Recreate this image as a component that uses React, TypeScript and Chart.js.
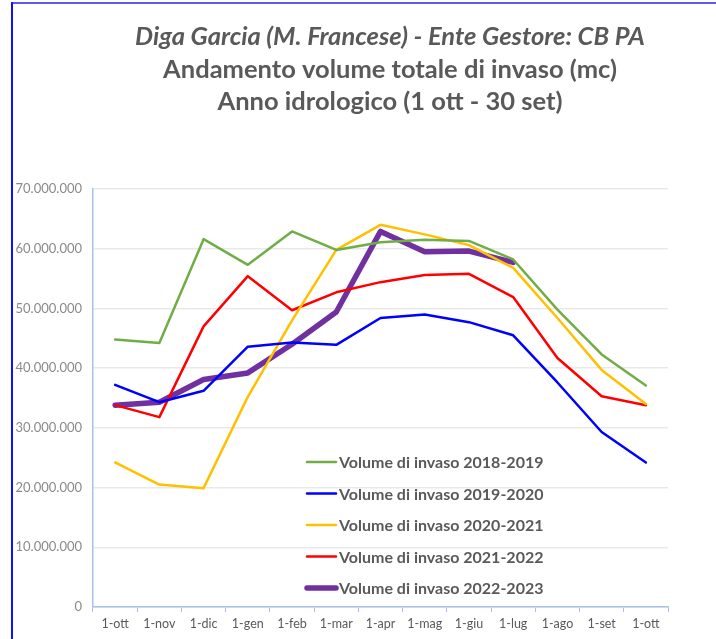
import React, { useEffect, useRef } from 'react';
import { Chart, registerables } from 'chart.js';

Chart.register(...registerables);

const categories = ['1-ott', '1-nov', '1-dic', '1-gen', '1-feb', '1-mar', '1-apr', '1-mag', '1-giu', '1-lug', '1-ago', '1-set', '1-ott'];

const seriesNames = [
  'Volume di invaso 2018-2019',
  'Volume di invaso 2019-2020',
  'Volume di invaso 2020-2021',
  'Volume di invaso 2021-2022',
  'Volume di invaso 2022-2023',
];

const vol2018 = [44800000, 44200000, 61600000, 57300000, 62900000, 59800000, 61100000, 61500000, 61300000, 58200000, 49800000, 42300000, 37100000];
const vol2019 = [37200000, 34300000, 36200000, 43600000, 44300000, 43900000, 48400000, 49000000, 47700000, 45500000, 37600000, 29300000, 24200000];
const vol2020 = [24200000, 20500000, 19900000, 35200000, 48000000, 59800000, 64000000, 62400000, 60600000, 56800000, 48400000, 39700000, 34000000];
const vol2021 = [33800000, 31800000, 47000000, 55400000, 49700000, 52700000, 54400000, 55600000, 55800000, 51900000, 41700000, 35300000, 33800000];
const vol2022 = [33800000, 34300000, 38100000, 39200000, 44000000, 49400000, 62900000, 59500000, 59600000, 57700000, null, null, null];

const titleLines = [
  'Diga Garcia (M. Francese) - Ente Gestore: CB PA',
  'Andamento volume totale di invaso (mc)',
  'Anno idrologico (1 ott - 30 set)',
];

const yMax = 70000000;
const yStep = 10000000;

const lineColors = ['#70ad47', '#0000ff', '#ffc000', '#ff0000', '#7030a0'];
const lineWidths = [2.5, 2.5, 2.5, 2.5, 5.5];

const fmt = (v: number) => String(Math.round(v)).replace(/\B(?=(\d{3})+(?!\d))/g, '.');

const FONT = 'Lato, "Open Sans", sans-serif';

const framePlugin = {
  id: 'frameAndTitle',
  beforeDraw(chart: any) {
    const ctx = chart.ctx;
    ctx.save();
    ctx.fillStyle = '#ffffff';
    ctx.fillRect(0, 0, chart.width, chart.height);
    ctx.fillStyle = '#5b5bef';
    ctx.fillRect(11, 2, chart.width - 11, 2);
    ctx.fillStyle = '#1010ff';
    ctx.fillRect(11, 2, 2, chart.height - 2);
    ctx.fillStyle = '#595959';
    ctx.textAlign = 'center';
    ctx.textBaseline = 'middle';
    const ys = [37, 70, 102];
    titleLines.forEach((t, i) => {
      ctx.font = (i === 0 ? 'italic ' : '') + 'bold 25.5px ' + FONT;
      ctx.fillText(t, 390, ys[i]);
    });
    ctx.restore();
  },
};

const legendPlugin = {
  id: 'innerLegend',
  afterDatasetsDraw(chart: any) {
    const ctx = chart.ctx;
    ctx.save();
    ctx.font = 'bold 16px ' + FONT;
    ctx.textBaseline = 'middle';
    ctx.textAlign = 'left';
    chart.data.datasets.forEach((ds: any, i: number) => {
      const y = 462 + i * 31.5;
      ctx.strokeStyle = ds.borderColor;
      ctx.lineWidth = ds.borderWidth;
      ctx.lineCap = 'round';
      ctx.beginPath();
      ctx.moveTo(307, y);
      ctx.lineTo(336, y);
      ctx.stroke();
      ctx.fillStyle = '#595959';
      ctx.fillText(ds.label, 339, y + 1);
    });
    ctx.restore();
  },
};

export default function App() {
  const ref = useRef<HTMLCanvasElement | null>(null);

  useEffect(() => {
    if (!ref.current) return;
    const seriesData = [vol2018, vol2019, vol2020, vol2021, vol2022];
    const chart = new Chart(ref.current, {
      type: 'line',
      data: {
        labels: categories,
        datasets: seriesNames.map((name, i) => ({
          label: name,
          data: seriesData[i],
          borderColor: lineColors[i],
          backgroundColor: lineColors[i],
          borderWidth: lineWidths[i],
          pointRadius: 0,
          pointHoverRadius: 0,
          tension: 0,
          fill: false,
          spanGaps: false,
          borderJoinStyle: 'round' as const,
          borderCapStyle: 'round' as const,
        })),
      },
      options: {
        animation: false,
        responsive: false,
        maintainAspectRatio: false,
        layout: { padding: { left: 0, top: 189, right: 48, bottom: 0 } },
        plugins: {
          legend: { display: false },
          title: { display: false },
          tooltip: { enabled: false },
        },
        scales: {
          x: {
            type: 'category',
            offset: true,
            grid: {
              offset: true,
              drawOnChartArea: false,
              drawTicks: true,
              tickLength: 5,
              color: '#a9c1e8',
            },
            border: { color: '#a9c1e8', width: 1.5 },
            ticks: {
              color: '#595959',
              font: { family: FONT, size: 12.5 },
              padding: 4,
              maxRotation: 0,
              autoSkip: false,
            },
            afterFit(scale: any) {
              scale.height = 32;
            },
          },
          y: {
            min: 0,
            max: yMax,
            ticks: {
              stepSize: yStep,
              color: '#8a8a8a',
              font: { family: FONT, size: 13 },
              padding: 11,
              callback: (v: any) => fmt(Number(v)),
            },
            grid: {
              color: '#e9e9e9',
              lineWidth: 1.5,
              drawTicks: false,
            },
            border: { color: '#a9c1e8', width: 1.5 },
            afterFit(scale: any) {
              scale.width = 93;
            },
          },
        },
      },
      plugins: [framePlugin, legendPlugin],
    });
    return () => chart.destroy();
  }, []);

  return (
    <div style={{ position: 'absolute', left: 0, top: 0, width: 716, height: 639 }}>
      <canvas ref={ref} width={716} height={639} style={{ display: 'block', width: 716, height: 639 }} />
    </div>
  );
}
